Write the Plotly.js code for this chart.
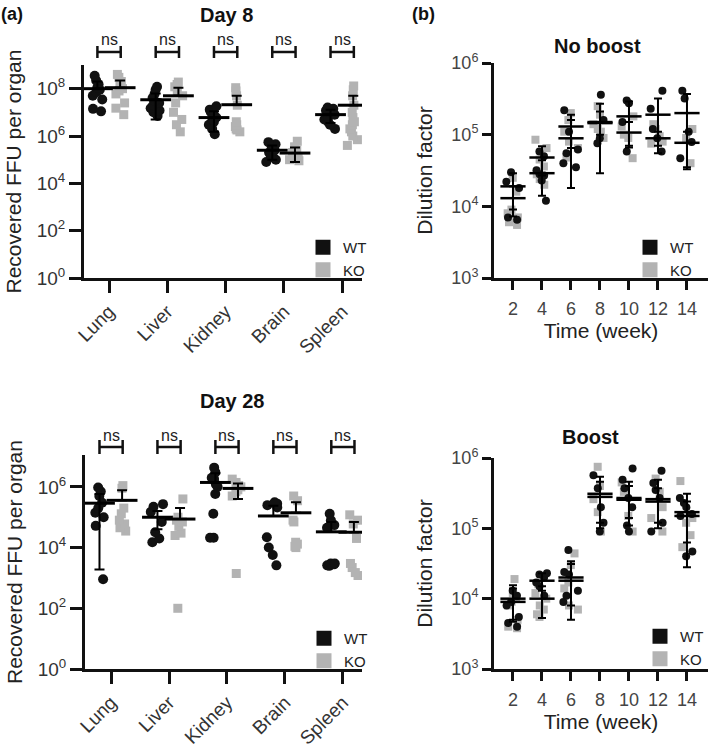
<!DOCTYPE html>
<html><head><meta charset="utf-8">
<script src="https://cdn.plot.ly/plotly-3.0.1.min.js"></script>
<style>html,body{margin:0;padding:0;background:#fff}#chart{width:709px;height:749px}</style>
</head><body><div id="chart"></div>
<script>
// ---------- Panel (a) data ----------
const organs = ["Lung", "Liver", "Kidney", "Brain", "Spleen"];

// Day 8, recovered FFU per organ (one array per organ)
const d8WT = [
  [3.5e8, 2.2e8, 1.5e8, 1.1e8, 9e7, 7e7, 5e7, 3.5e7, 1.4e7, 1.1e7],
  [1.2e8, 9e7, 6e7, 4e7, 3e7, 2.5e7, 2e7, 1.5e7, 1.2e7, 1e7, 7e6],
  [1.8e7, 1.3e7, 1e7, 8e6, 6e6, 5e6, 4e6, 3e6, 2e6, 1.2e6],
  [5.5e5, 4.5e5, 3.5e5, 2.5e5, 2e5, 1.5e5, 1.2e5, 1e5, 8e4],
  [1.6e7, 1.4e7, 1.2e7, 1e7, 8e6, 6e6, 5e6, 4e6, 3e6, 2e6]
];
const d8KO = [
  [4e8, 3e8, 2e8, 1.3e8, 1e8, 8e7, 6e7, 2.5e7, 1.5e7, 8e6],
  [1.9e8, 1.5e8, 1.2e8, 8e7, 5e7, 2.5e7, 1e7, 5e6, 3e6, 1.5e6],
  [1.1e8, 8e7, 5e7, 2e7, 4e6, 3e6, 2.5e6, 2e6, 1.8e6, 1.5e6],
  [6e5, 3.5e5, 2.5e5, 2e5, 1.6e5, 1.3e5, 1.1e5, 1e5, 9e4],
  [1.3e8, 9e7, 5e7, 2e7, 1e7, 6e6, 4e6, 3e6, 2e6, 1.5e6, 1e6, 7e5, 4e5]
];
const d8WTmean = [1e8, 3.4e7, 6e6, 2.5e5, 8e6];
const d8WThi   = [2e8, 6.3e7, 1.1e7, 4e5, 1.3e7];
const d8WTlo   = [null, 5e6, 1.5e6, 1e5, 3.5e6];
const d8KOmean = [1.1e8, 5e7, 2.1e7, 1.9e5, 2e7];
const d8KOhi   = [2.2e8, 1.1e8, 5e7, 3.3e5, 5e7];
const d8KOlo   = [null, null, null, 8e4, null];

// Day 28
const d28WT = [
  [9.5e5, 7e5, 5e5, 3e5, 2e5, 1.4e5, 1e5, 5.2e4, 900],
  [2.7e5, 2.2e5, 1.5e5, 7e4, 3.2e4, 2e4, 1.5e4],
  [4.3e6, 3e6, 2e6, 1.8e6, 1.2e6, 1e6, 5.8e5, 1.3e5, 2.1e4, 2.1e4],
  [3.1e5, 2.8e5, 2.5e5, 2.1e5, 2.2e4, 1e4, 5.7e3, 2.6e3],
  [1.3e5, 8e4, 5.5e4, 4.5e4, 3e3, 2.8e3, 2.6e3, 2.5e3, 3e3]
];
const d28KO = [
  [1.1e6, 9e5, 2e5, 1.3e5, 8e4, 6e4, 4.5e4, 3.5e4],
  [4e5, 1e5, 8e4, 7e4, 5e4, 3e4, 2.5e4, 100],
  [1.8e6, 1.4e6, 1.1e6, 1e6, 8e5, 7e5, 5e5, 1.4e3],
  [5e5, 3.5e5, 8e4, 7e4, 1.5e4, 1.3e4, 1.1e4, 1e4],
  [1.2e5, 8e4, 6e4, 2e4, 3e3, 2.2e3, 1.5e3, 1.2e3]
];
const d28WTmean = [2.9e5, 1e5, 1.4e6, 1.1e5, 3.3e4];
const d28WThi   = [5.8e5, 1.6e5, 2.8e6, 2.4e5, 7e4];
const d28WTlo   = [1.9e3, 4e4, null, null, null];
const d28KOmean = [3.6e5, 8.7e4, 8.9e5, 1.4e5, 3.2e4];
const d28KOhi   = [7.8e5, 2e5, 1.3e6, 3.1e5, 7e4];
const d28KOlo   = [null, null, 4e5, null, null];

// ---------- Panel (b) data ----------
const weeks = [2, 4, 6, 8, 10, 12, 14];

const nbWT = [
  [3e4, 2.2e4, 1.8e4, 7e3, 6.5e3],
  [5.8e4, 5e4, 3.2e4, 2.8e4, 2.7e4, 2.3e4, 1.2e4],
  [2.2e5, 1.1e5, 6.2e4, 5.5e4, 4e4, 3.5e4],
  [3.6e5, 1.6e5, 8.9e4, 7.6e4],
  [3e5, 2.75e5, 1.5e5, 5.8e4],
  [4.1e5, 2.3e5, 1.2e5, 8.9e4, 5.8e4],
  [4.1e5, 3.2e5, 1.1e5, 7.9e4, 4.7e4]
];
const nbKO = [
  [2.5e4, 1.6e4, 9e3, 8e3, 7e3, 6e3, 5.5e3],
  [8.5e4, 6.5e4, 4.5e4, 3.6e4, 2.8e4, 2.4e4, 2e4],
  [2e5, 1.6e5, 1.1e5, 8e4, 6.5e4, 4.8e4],
  [2.5e5, 1.9e5, 1.4e5, 1.2e5, 1.1e5, 9e4],
  [1.8e5, 1.3e5, 1e5, 9e4, 4.7e4],
  [1.4e5, 1.2e5, 9.5e4, 8e4, 7.5e4],
  [1.2e5, 9e4, 4e4]
];
const nbWTmean = [1.9e4, 2.9e4, 8.9e4, 1.5e5, 1.8e5, 1.9e5, 2e5];
const nbWThi   = [2.9e4, 4.4e4, 1.6e5, 2.7e5, 2.9e5, 3.2e5, 3.7e5];
const nbWTlo   = [9e3, 1.4e4, 1.8e4, 2.9e4, 7e4, 5.5e4, 3.5e4];
const nbKOmean = [1.3e4, 4.8e4, 1.3e5, 1.45e5, 1.07e5, 8.9e4, 7.7e4];
const nbKOhi   = [1.9e4, 6.9e4, 1.9e5, 2.1e5, 1.5e5, 1.1e5, 1.1e5];
const nbKOlo   = [7.2e3, 2.7e4, 6.5e4, 1e5, 6.6e4, 7e4, 3.3e4];

const bWT = [
  [1.3e4, 1.1e4, 9e3, 8e3, 5.5e3, 4.5e3, 4e3],
  [2.3e4, 2.2e4, 2e4, 1.7e4, 1.5e4, 1.1e4],
  [4.9e4, 2.4e4, 2.2e4, 1.3e4, 1.1e4, 9e3],
  [5.7e5, 3.7e5, 2e5, 1.2e5, 9e4],
  [7.1e5, 4.9e5, 3.7e5, 2.7e5, 2e5, 1.1e5, 9e4],
  [6.6e5, 4.4e5, 3.5e5, 2.7e5, 1.2e5, 9e4],
  [2.7e5, 2.3e5, 2e5, 1.6e5, 1.5e5, 4.7e4, 4e4]
];
const bKO = [
  [1.9e4, 1.2e4, 1e4, 9e3, 8e3, 5e3, 4e3, 3.8e3],
  [1.6e4, 1.2e4, 1e4, 8e3, 7e3, 6e3, 5.5e3],
  [4.4e4, 3e4, 1.7e4, 1.4e4, 8e3, 7e3],
  [7.5e5, 4e5, 2.6e5, 1.7e5, 9e4],
  [4.5e5, 3.3e5, 1.5e5, 9e4],
  [5.1e5, 3.3e5, 2e5, 1.4e5, 9e4],
  [4.7e5, 1.4e5, 1.2e5, 8e4, 5.4e4]
];
const bWTmean = [9e3, 1.8e4, 2e4, 2.8e5, 2.7e5, 2.6e5, 1.5e5];
const bWThi   = [1.4e4, 2.3e4, 3.4e4, 4.6e5, 4.6e5, 4.9e5, 2.4e5];
const bWTlo   = [4.7e3, 1.3e4, 8e3, 1.2e5, 1.1e5, 1e5, 6.3e4];
const bKOmean = [1e4, 1e4, 1.8e4, 3.1e5, 2.55e5, 2.4e5, 1.7e5];
const bKOhi   = [1.55e4, 1.5e4, 3.1e4, 5.4e5, 4e5, 3.7e5, 3.1e5];
const bKOlo   = [5e3, 5.3e3, 5e3, 1e5, 1.4e5, 1.2e5, 2.8e4];

const logTicksA8 = [1, 1e2, 1e4, 1e6, 1e8];
const logTicksA28 = [1, 1e2, 1e4, 1e6];
const logTicksB = [1e3, 1e4, 1e5, 1e6];

// ---------- helpers ----------
const W = 709, H = 749;
const px = x => x / W;
const py = y => 1 - y / H;
const FONT = "Liberation Sans, Arial, sans-serif";
const WTC = "#111111", KOC = "#b3b3b3";

function dots(groups, pos, color, symbol, size, bw, jit, xa, ya) {
  const x = [], y = [];
  groups.forEach((g, i) => g.forEach(v => { x.push(pos[i]); y.push(v); }));
  return {
    type: "box", x: x, y: y, xaxis: xa, yaxis: ya,
    boxpoints: "all", jitter: jit, pointpos: 0, width: bw,
    fillcolor: "rgba(0,0,0,0)", line: {width: 0, color: "rgba(0,0,0,0)"},
    whiskerwidth: 0,
    marker: {color: color, symbol: symbol, size: size, line: {width: 0}},
    showlegend: false, hoverinfo: "y"
  };
}
function bars(pos, mean, hi, lo, sz, lw, capw, xa, ya) {
  return {
    type: "scatter", mode: "markers", x: pos, y: mean, xaxis: xa, yaxis: ya,
    marker: {symbol: "line-ew", size: sz, color: "#000", line: {width: lw, color: "#000"}},
    error_y: {type: "data", symmetric: false,
      array: mean.map((m, i) => hi[i] == null ? 0 : hi[i] - m),
      arrayminus: mean.map((m, i) => lo[i] == null ? 0 : m - lo[i]),
      color: "#000", thickness: 2, width: capw},
    showlegend: false, hoverinfo: "y"
  };
}
function legendPair(lg) {
  return [
    {type: "scatter", mode: "markers", x: [null], y: [null], name: "WT", legend: lg,
     marker: {symbol: "square", size: 15, color: WTC}},
    {type: "scatter", mode: "markers", x: [null], y: [null], name: "KO", legend: lg,
     marker: {symbol: "square", size: 15, color: KOC}}
  ];
}

const idx = organs.map((o, i) => i);
const posWT = idx.map(i => i - 0.2);
const posKO = idx.map(i => i + 0.19);

const traces = [
  dots(d8WT, posWT, WTC, "circle", 10, 0.3, 0.8, "x", "y"),
  dots(d8KO, posKO, KOC, "square", 9, 0.3, 0.8, "x", "y"),
  bars(posWT, d8WTmean, d8WThi, d8WTlo, 22, 3, 5, "x", "y"),
  bars(posKO, d8KOmean, d8KOhi, d8KOlo, 22, 3, 5, "x", "y"),

  dots(d28WT, posWT, WTC, "circle", 10, 0.3, 0.8, "x2", "y2"),
  dots(d28KO, posKO, KOC, "square", 9, 0.3, 0.8, "x2", "y2"),
  bars(posWT, d28WTmean, d28WThi, d28WTlo, 22, 3, 5, "x2", "y2"),
  bars(posKO, d28KOmean, d28KOhi, d28KOlo, 22, 3, 5, "x2", "y2"),

  dots(nbKO, weeks, KOC, "square", 8, 1.2, 0.9, "x3", "y3"),
  dots(nbWT, weeks, WTC, "circle", 8, 1.2, 0.9, "x3", "y3"),
  bars(weeks, nbWTmean, nbWThi, nbWTlo, 18, 2.5, 4, "x3", "y3"),
  bars(weeks, nbKOmean, nbKOhi, nbKOlo, 18, 2.5, 4, "x3", "y3"),

  dots(bKO, weeks, KOC, "square", 8, 1.2, 0.9, "x4", "y4"),
  dots(bWT, weeks, WTC, "circle", 8, 1.2, 0.9, "x4", "y4"),
  bars(weeks, bWTmean, bWThi, bWTlo, 18, 2.5, 4, "x4", "y4"),
  bars(weeks, bKOmean, bKOhi, bKOlo, 18, 2.5, 4, "x4", "y4")
].concat(legendPair("legend"), legendPair("legend2"), legendPair("legend3"), legendPair("legend4"));

const supText = v => "10<sup>" + Math.round(Math.log10(v)) + "</sup>";
const axBase = {showline: true, linewidth: 3, linecolor: "#111", ticks: "outside",
  tickwidth: 3, tickcolor: "#111", showgrid: false, zeroline: false, fixedrange: true,
  tickfont: {family: FONT, size: 19, color: "#333"}};
const yTitleFont = {family: FONT, size: 21, color: "#222"};

function catX(dom, rng, anchor) {
  return Object.assign({}, axBase, {domain: dom, range: rng, anchor: anchor,
    tickmode: "array", tickvals: idx, ticktext: organs, tickangle: -45, ticklen: 12,
    tickfont: {family: FONT, size: 19, color: "#333"}});
}
function logY(dom, rng, anchor, tv, title, tl, so) {
  return Object.assign({}, axBase, {type: "log", domain: dom, range: rng, anchor: anchor,
    tickmode: "array", tickvals: tv, ticktext: tv.map(supText), ticklen: tl,
    title: {text: title, font: yTitleFont, standoff: so}});
}
function weekX(dom, anchor) {
  return Object.assign({}, axBase, {domain: dom, range: [0.69, 15.45], anchor: anchor,
    tickmode: "array", tickvals: weeks, ticklen: 9, ticklabelstandoff: 3,
    title: {text: "Time (week)", font: yTitleFont, standoff: 6}});
}

// brackets + ns
const shapes = [], annotations = [];
function bracket(xref, yPx, capPx) {
  idx.forEach(i => {
    const a = i - 0.2, b = i + 0.2, ln = {color: "#111", width: 2.5};
    shapes.push({type: "line", xref: xref, yref: "paper", x0: a, x1: b, y0: py(yPx), y1: py(yPx), line: ln});
    shapes.push({type: "line", xref: xref, yref: "paper", x0: a, x1: a, y0: py(yPx - capPx), y1: py(yPx + capPx), line: ln});
    shapes.push({type: "line", xref: xref, yref: "paper", x0: b, x1: b, y0: py(yPx - capPx), y1: py(yPx + capPx), line: ln});
    annotations.push({xref: xref, yref: "paper", x: i, y: py(yPx - 12), text: "ns", showarrow: false,
      yanchor: "middle", font: {family: FONT, size: 16, color: "#222"}});
  });
}
bracket("x", 52, 6);
bracket("x2", 447, 7);

function label(xPx, yPx, text, size, bold) {
  annotations.push({xref: "paper", yref: "paper", x: px(xPx), y: py(yPx), text: bold ? "<b>" + text + "</b>" : text,
    showarrow: false, xanchor: "center", yanchor: "middle", font: {family: FONT, size: size, color: "#111"}});
}
label(226, 15, "Day 8", 20, true);
label(232, 401, "Day 28", 20, true);
label(597, 46, "No boost", 20, true);
label(590, 437, "Boost", 20, true);
label(12, 14, "(a)", 18, true);
label(424, 14, "(b)", 18, true);

const legBase = {bgcolor: "rgba(0,0,0,0)", borderwidth: 0, xanchor: "left", yanchor: "top",
  font: {family: FONT, size: 15, color: "#222"}, itemclick: false, itemdoubleclick: false};

const layout = {
  width: W, height: H, margin: {l: 0, r: 0, t: 0, b: 0},
  paper_bgcolor: "#fff", plot_bgcolor: "rgba(0,0,0,0)",
  font: {family: FONT, color: "#222"},
  boxmode: "overlay",
  xaxis: catX([px(84), px(362)], [-0.43, 4.34], "y"),
  yaxis: logY([py(278), py(65)], [0, 9], "x", logTicksA8, "Recovered FFU per organ", 12, 10),
  xaxis2: catX([px(85), px(362)], [-0.45, 4.33], "y2"),
  yaxis2: logY([py(669), py(455)], [0, 7.05], "x2", logTicksA28, "Recovered FFU per organ", 12, 10),
  xaxis3: weekX([px(494), px(708)], "y3"),
  yaxis3: logY([py(278), py(63)], [3, 6], "x3", logTicksB, "Dilution factor", 9, 14),
  xaxis4: weekX([px(494), px(708)], "y4"),
  yaxis4: logY([py(669), py(458)], [3, 6], "x4", logTicksB, "Dilution factor", 9, 14),
  legend: Object.assign({}, legBase, {x: px(303), y: py(231)}),
  legend2: Object.assign({}, legBase, {x: px(304), y: py(622)}),
  legend3: Object.assign({}, legBase, {x: px(630), y: py(231)}),
  legend4: Object.assign({}, legBase, {x: px(640), y: py(620)}),
  shapes: shapes, annotations: annotations
};
["yaxis3", "yaxis4", "xaxis3", "xaxis4"].forEach(k => { layout[k].tickfont = {family: FONT, size: 18, color: "#444"}; });

Plotly.newPlot("chart", traces, layout, {staticPlot: true, displayModeBar: false});
</script>
</body></html>
